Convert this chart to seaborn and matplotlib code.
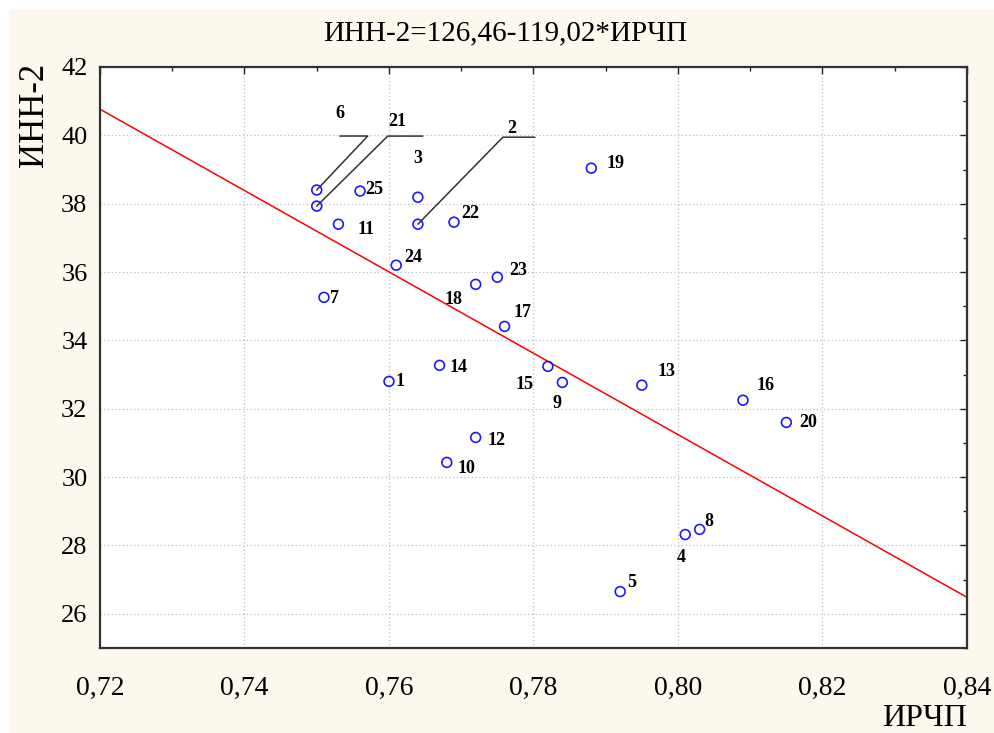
import numpy as np
import pandas as pd
import seaborn as sns
import matplotlib.pyplot as plt
from matplotlib.patches import Rectangle
from matplotlib.ticker import FuncFormatter, MultipleLocator

# Data (regions 1..25)
region_ids = [1, 2, 3, 4, 5, 6, 7, 8, 9, 10, 11, 12, 13,
              14, 15, 16, 17, 18, 19, 20, 21, 22, 23, 24, 25]
irchp = [0.760, 0.764, 0.764, 0.801, 0.792, 0.750, 0.751, 0.803, 0.784, 0.768,
         0.753, 0.772, 0.795, 0.767, 0.782, 0.809, 0.776, 0.772, 0.788, 0.815,
         0.750, 0.769, 0.775, 0.761, 0.756]
inn2 = [32.80, 37.40, 38.19, 28.32, 26.65, 38.40, 35.26, 28.47, 32.77, 30.43,
        37.40, 31.16, 32.69, 33.27, 33.24, 32.25, 34.41, 35.64, 39.04, 31.60,
        37.93, 37.46, 35.85, 36.20, 38.37]

# regression from the title
intercept = 126.46
slope = -119.02
line_x = [0.72, 0.84]

df = pd.DataFrame({"id": region_ids, "ИРЧП": irchp, "ИНН-2": inn2})
fit = pd.DataFrame({"x": line_x})
fit["y"] = intercept + slope * fit["x"]

sns.set_style("white")
plt.rcParams['font.family'] = ['Liberation Serif', 'DejaVu Serif']
plt.rcParams['text.color'] = 'black'
plt.rcParams['xtick.labelcolor'] = 'black'
plt.rcParams['ytick.labelcolor'] = 'black'

fig = plt.figure(figsize=(9.94, 7.33), dpi=100)
fig.patch.set_facecolor("white")
fig.patches.append(Rectangle((9 / 994, 0), 1, (733 - 9) / 733, transform=fig.transFigure,
                             facecolor="#fdf8ee", edgecolor="none", zorder=-10))
ax = fig.add_axes([0.1006, 0.116, 0.8722, 0.7926])
ax.set_facecolor("white")

ax.set_xlim(0.72, 0.84)
ax.set_ylim(25, 42)

sns.lineplot(data=fit, x="x", y="y", ax=ax, color="red", linewidth=1.1, zorder=2)
sns.scatterplot(data=df, x="ИРЧП", y="ИНН-2", ax=ax, s=50, marker="o",
                facecolor="none", edgecolor="#1a1aff", linewidth=1.2, zorder=3)

# ticks & grid
ax.xaxis.set_major_locator(MultipleLocator(0.02))
ax.xaxis.set_minor_locator(MultipleLocator(0.01))
ax.yaxis.set_major_locator(MultipleLocator(2))
ax.yaxis.set_minor_locator(MultipleLocator(1))
ax.xaxis.set_major_formatter(FuncFormatter(lambda v, p: f"{v:.2f}".replace(".", ",")))
ax.yaxis.set_major_formatter(FuncFormatter(lambda v, p: f"{v:.0f}"))
ax.tick_params(which="both", direction="in", top=True, right=True, color="#222222")
ax.tick_params(which="major", length=5, width=1)
ax.tick_params(which="minor", length=3, width=1)
ax.tick_params(axis="x", labelsize=20, pad=20)
ax.tick_params(axis="y", labelsize=19, pad=9)
ax.grid(True, which="major", linestyle=(0, (1, 2)), color="#bdbdbd", linewidth=0.9)
ax.set_axisbelow(True)
for sp in ax.spines.values():
    sp.set_color("#333333")
    sp.set_linewidth(1.6)
ax.set_xlabel("")
ax.set_ylabel("")

# labels next to points: (dx, dy, ha) in pixels
label_pos = {
    1: (7, 0, "left"), 3: (0, 39, "center"), 4: (-4, -23, "center"),
    5: (7, 9, "left"), 7: (6, -1, "left"), 8: (5, 8, "left"),
    9: (-5, -21, "center"), 10: (11, -6, "left"), 11: (19, -5, "left"),
    12: (12, -3, "left"), 13: (16, 14, "left"), 14: (10, -2, "left"),
    15: (-23, -18, "center"), 16: (14, 15, "left"), 17: (9, 14, "left"),
    18: (-22, -15, "center"), 19: (15, 5, "left"), 20: (13, 0, "left"),
    22: (7, 9, "left"), 23: (12, 7, "left"), 24: (8, 8, "left"),
    25: (5, 2, "left"),
}
# leader lines: elbow, end, label (pixel offsets)
leaders = {
    6: ((51, 54), (23, 54), (23, 77)),
    21: ((71, 70), (106, 70), (81, 85)),
    2: ((85, 87), (117, 87), (94, 96)),
}

lbl_font = dict(fontsize=13, fontweight="bold", color="black")
for rid, x, y in zip(region_ids, irchp, inn2):
    if rid in label_pos:
        dx, dy, ha = label_pos[rid]
        ax.annotate(str(rid), (x, y), xytext=(dx, dy), textcoords="offset pixels",
                    ha=ha, va="center", **lbl_font)
    else:
        elbow, end, lab = leaders[rid]
        p = ax.transData.transform((x, y))
        pts = [p, p + np.array(elbow), p + np.array(end)]
        pts = ax.transData.inverted().transform(np.array(pts))
        ax.plot(pts[:, 0], pts[:, 1], color="#333333", linewidth=1.1, zorder=2)
        ax.annotate(str(rid), (x, y), xytext=lab, textcoords="offset pixels",
                    ha="center", va="center", **lbl_font)

fig.text(505 / 994, (733 - 33) / 733, "ИНН-2=126,46-119,02*ИРЧП",
         ha="center", va="center", fontsize=21)
fig.text(35 / 994, (733 - 115) / 733, "ИНН-2", rotation=90,
         ha="center", va="center", fontsize=25)
fig.text(925 / 994, (733 - 718) / 733, "ИРЧП", ha="center", va="center", fontsize=23)

fig.savefig("out.png", dpi=100)
